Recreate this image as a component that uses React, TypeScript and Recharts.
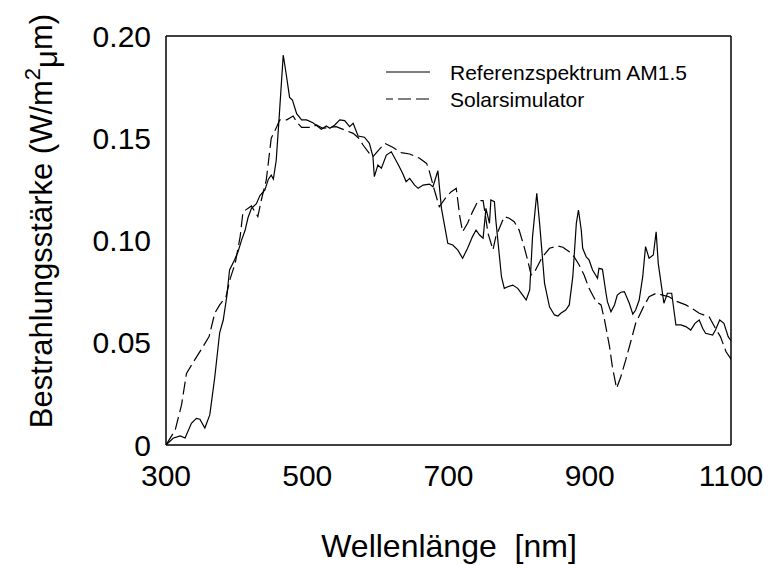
import React from 'react';
import { Line, LineChart, XAxis, YAxis } from 'recharts';

// Referenzspektrum AM1.5 (solid)
const refWavelength = [
  300, 310, 320, 327, 336, 343, 348, 355, 362, 369, 376, 381, 386, 390, 397, 402, 407, 412, 416, 421,
  428, 433, 440, 445, 449, 452, 456, 460, 466, 470, 475, 479, 485, 492, 499, 508, 520, 527, 532, 539,
  546, 553, 560, 565, 572, 581, 588, 593, 595, 600, 605, 612, 619, 628, 635, 640, 645, 652, 657, 664,
  673, 678, 685, 690, 699, 706, 713, 720, 727, 734, 739, 744, 749, 753, 758, 760, 765, 767, 775, 779,
  784, 791, 798, 805, 810, 815, 819, 825, 829, 836, 843, 850, 855, 859, 866, 871, 876, 881, 884, 888,
  890, 895, 899, 904, 911, 913, 918, 923, 925, 930, 935, 939, 944, 949, 956, 961, 965, 970, 975, 979,
  984, 990, 994, 997, 1005, 1010, 1016, 1022, 1029, 1036, 1043, 1049, 1055, 1060, 1064, 1074, 1078, 1084, 1090, 1096,
  1100,
];
const refIrradiance = [
  0, 0.0033, 0.0044, 0.0034, 0.0106, 0.013, 0.0126, 0.0083, 0.0147, 0.033, 0.055, 0.061, 0.0725, 0.0856, 0.0905, 0.0945, 0.1002, 0.105, 0.111, 0.1157,
  0.118, 0.122, 0.1247, 0.13, 0.132, 0.13, 0.139, 0.159, 0.1907, 0.1818, 0.17, 0.1687, 0.162, 0.159, 0.159, 0.1576, 0.1544, 0.156, 0.1549, 0.1565,
  0.159, 0.1586, 0.1557, 0.1573, 0.1511, 0.1505, 0.1475, 0.141, 0.1312, 0.1369, 0.1353, 0.1418, 0.1434, 0.1377, 0.1329, 0.1288, 0.1304, 0.1271, 0.1255, 0.1271,
  0.1276, 0.1263, 0.1341, 0.1157, 0.0986, 0.0978, 0.0954, 0.0913, 0.0962, 0.1019, 0.1051, 0.1027, 0.1011, 0.1157, 0.1084, 0.1198, 0.119, 0.11, 0.0823, 0.0766,
  0.0774, 0.0782, 0.0766, 0.0733, 0.0709, 0.0758, 0.1019, 0.1231, 0.1084, 0.079, 0.0676, 0.0636, 0.0631, 0.0644, 0.066, 0.0685, 0.0823, 0.1084, 0.1149, 0.105,
  0.0962, 0.092, 0.0905, 0.0856, 0.0815, 0.0864, 0.0859, 0.0742, 0.0701, 0.0652, 0.0685, 0.0733, 0.0747, 0.075, 0.0693, 0.064, 0.066, 0.0709, 0.0823, 0.097,
  0.0913, 0.0929, 0.1043, 0.0888, 0.0693, 0.0742, 0.0742, 0.0587, 0.0587, 0.0579, 0.0562, 0.0595, 0.0611, 0.057, 0.0546, 0.0538, 0.0562, 0.0611, 0.0595, 0.053,
  0.051,
];

// Solarsimulator (dashed)
const simWavelength = [
  300, 313, 322, 329, 339, 351, 361, 369, 376, 385, 391, 398, 405, 409, 421, 430, 435, 442, 449, 457,
  461, 471, 480, 485, 492, 506, 513, 522, 541, 565, 573, 579, 588, 593, 602, 610, 621, 633, 645, 659,
  669, 673, 680, 687, 697, 704, 711, 716, 720, 727, 734, 742, 749, 756, 763, 767, 775, 779, 786, 793,
  800, 807, 812, 817, 822, 828, 833, 843, 855, 862, 871, 878, 885, 892, 899, 909, 916, 921, 928, 932,
  938, 944, 951, 958, 965, 975, 984, 994, 1003, 1012, 1024, 1036, 1045, 1055, 1069, 1078, 1085, 1093, 1100,
];
const simIrradiance = [
  0, 0.0073, 0.0196, 0.035, 0.0407, 0.0473, 0.053, 0.0644, 0.0685, 0.0725, 0.0815, 0.0888, 0.1019, 0.114, 0.1169, 0.1117, 0.1198, 0.1296, 0.15, 0.1557,
  0.159, 0.159, 0.1609, 0.158, 0.1553, 0.1553, 0.1565, 0.1549, 0.1557, 0.1524, 0.15, 0.1467, 0.1426, 0.141, 0.1446, 0.1475, 0.1456, 0.143, 0.1423, 0.1402,
  0.1377, 0.1337, 0.1247, 0.1165, 0.1214, 0.1239, 0.1255, 0.1117, 0.1043, 0.1084, 0.114, 0.1195, 0.1195, 0.1035, 0.0954, 0.1019, 0.1084, 0.1117, 0.1109, 0.1092,
  0.1051, 0.097, 0.0905, 0.0831, 0.0847, 0.0888, 0.092, 0.0962, 0.0973, 0.0967, 0.0945, 0.092, 0.088, 0.0831, 0.0766, 0.0701, 0.0685, 0.0611, 0.0481, 0.0383,
  0.0277, 0.0334, 0.0416, 0.0505, 0.0595, 0.0668, 0.0725, 0.0742, 0.0733, 0.0725, 0.0701, 0.0685, 0.0668, 0.0644, 0.0627, 0.057, 0.053, 0.0456, 0.042,
];

const xMajorTicks = [300, 500, 700, 900, 1100];
const xMinorTicks = [300, 350, 400, 450, 500, 550, 600, 650, 700, 750, 800, 850, 900, 950, 1000, 1050, 1100];
const yMajorTicks = [0, 0.05, 0.1, 0.15, 0.2];
const yMinorTicks = [0, 0.01, 0.02, 0.03, 0.04, 0.05, 0.06, 0.07, 0.08, 0.09, 0.1, 0.11, 0.12, 0.13, 0.14, 0.15, 0.16, 0.17, 0.18, 0.19, 0.2];

const FONT = "'Liberation Sans', Arial, Helvetica, sans-serif";
const DASH = '13 5';

const refData = refWavelength.map((x, i) => ({ x, y: refIrradiance[i] }));
const simData = simWavelength.map((x, i) => ({ x, y: simIrradiance[i] }));

const minorAxisProps = {
  type: 'number' as const,
  allowDataOverflow: true,
  interval: 0 as const,
  mirror: true,
  tick: false as const,
  tickSize: 5,
  tickLine: { stroke: '#000', strokeWidth: 1 },
};

export default function App() {
  const tickStyle = { fontSize: 30, fill: '#000', fontFamily: FONT };
  return (
    <div style={{ position: 'absolute', left: 0, top: 0, width: 769, height: 565, background: '#fff' }}>
      <LineChart width={769} height={565} margin={{ top: 36, right: 38, left: 86, bottom: 70 }}>
        <XAxis
          xAxisId="main"
          type="number"
          dataKey="x"
          domain={[300, 1100]}
          allowDataOverflow
          ticks={xMajorTicks}
          interval={0}
          height={50}
          tickLine={false}
          tickSize={6}
          tickMargin={14}
          axisLine={{ stroke: '#000', strokeWidth: 1.5 }}
          tick={tickStyle}
        />
        <XAxis xAxisId="minorBottom" dataKey="x" domain={[300, 1100]} ticks={xMinorTicks} height={1} axisLine={false} {...minorAxisProps} />
        <XAxis
          xAxisId="top"
          orientation="top"
          dataKey="x"
          domain={[300, 1100]}
          ticks={xMinorTicks}
          height={1}
          axisLine={{ stroke: '#000', strokeWidth: 1.5 }}
          {...minorAxisProps}
        />
        <YAxis
          yAxisId="main"
          type="number"
          domain={[0, 0.2]}
          allowDataOverflow
          ticks={yMajorTicks}
          interval={0}
          width={80}
          tickLine={false}
          tickSize={5}
          tickMargin={10}
          axisLine={{ stroke: '#000', strokeWidth: 1.5 }}
          tick={tickStyle}
          tickFormatter={(v: number) => (v === 0 ? '0' : v.toFixed(2))}
        />
        <YAxis yAxisId="minorLeft" domain={[0, 0.2]} ticks={yMinorTicks} width={1} axisLine={false} {...minorAxisProps} />
        <YAxis
          yAxisId="right"
          orientation="right"
          domain={[0, 0.2]}
          ticks={yMinorTicks}
          width={1}
          axisLine={{ stroke: '#000', strokeWidth: 1.5 }}
          {...minorAxisProps}
        />
        {/* invisible series so that the frame / minor-tick axes are bound and rendered */}
        <Line xAxisId="minorBottom" yAxisId="minorLeft" data={simData} dataKey="y" stroke="none" dot={false} activeDot={false} isAnimationActive={false} />
        <Line xAxisId="top" yAxisId="right" data={simData} dataKey="y" stroke="none" dot={false} activeDot={false} isAnimationActive={false} />
        <Line
          xAxisId="main"
          yAxisId="main"
          data={simData}
          dataKey="y"
          type="linear"
          stroke="#000"
          strokeWidth={1.2}
          strokeDasharray={DASH}
          dot={false}
          activeDot={false}
          isAnimationActive={false}
        />
        <Line
          xAxisId="main"
          yAxisId="main"
          data={refData}
          dataKey="y"
          type="linear"
          stroke="#000"
          strokeWidth={1.2}
          dot={false}
          activeDot={false}
          isAnimationActive={false}
        />
      </LineChart>
      <svg width={769} height={565} style={{ position: 'absolute', left: 0, top: 0, pointerEvents: 'none' }}>
        <g transform="translate(380,55)">
          <line x1={6} x2={50} y1={17} y2={17} stroke="#000" strokeWidth={1.2} />
          <text x={70} y={17} dy="0.36em" fontSize={21} fontFamily={FONT} fill="#000">
            Referenzspektrum AM1.5
          </text>
          <line x1={6} x2={50} y1={44} y2={44} stroke="#000" strokeWidth={1.2} strokeDasharray={DASH} strokeDashoffset={6} />
          <text x={70} y={44} dy="0.36em" fontSize={21} fontFamily={FONT} fill="#000">
            Solarsimulator
          </text>
        </g>
        <text x={449} y={557} textAnchor="middle" fontSize={32} fontFamily={FONT} fill="#000">
          Wellenlänge{'\u00a0\u00a0'}[nm]
        </text>
        <text
          x={52}
          y={221}
          transform="rotate(-90 52 221)"
          textAnchor="middle"
          fontSize={31}
          fontFamily={FONT}
          fill="#000"
        >
          Bestrahlungsstärke (W/m
          <tspan fontSize={22} dy={-12}>2</tspan>
          <tspan dy={17}>μ</tspan>
          <tspan dy={-5}>m)</tspan>
        </text>
      </svg>
    </div>
  );
}
